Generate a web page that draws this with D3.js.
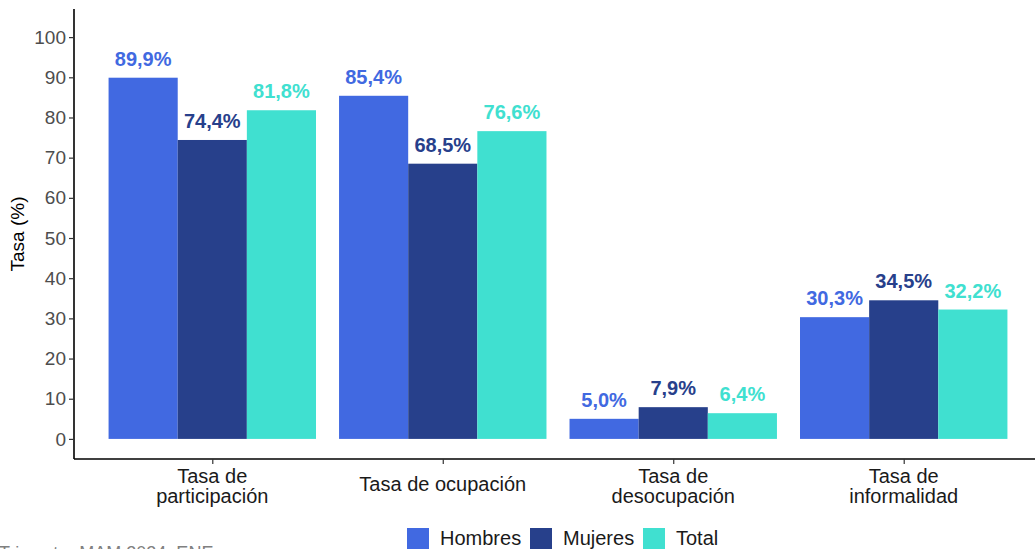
<!DOCTYPE html>
<html>
<head>
<meta charset="utf-8">
<script src="https://cdn.jsdelivr.net/npm/d3@7"></script>
<style>
  body { margin: 0; background: #fff; }
  svg { display: block; font-family: "Liberation Sans", Arial, sans-serif; }
</style>
</head>
<body>
<div id="my_dataviz"></div>
<script>
// data
var categories = ["Tasa de\nparticipación", "Tasa de ocupación", "Tasa de\ndesocupación", "Tasa de\ninformalidad"];
var series = ["Hombres", "Mujeres", "Total"];
var hombres = [89.9, 85.4, 5.0, 30.3];
var mujeres = [74.4, 68.5, 7.9, 34.5];
var total   = [81.8, 76.6, 6.4, 32.2];
var yTicks = [0, 10, 20, 30, 40, 50, 60, 70, 80, 90, 100];
var colors = ["#4169E1", "#27408B", "#40E0D0"];

var values = [hombres, mujeres, total];

// dimensions
var W = 1035, H = 549;
var margin = {top: 9, right: -7, bottom: 90, left: 74},
    width = W - margin.left - margin.right,
    height = H - margin.top - margin.bottom;

var svg = d3.select("#my_dataviz")
  .append("svg")
    .attr("width", W)
    .attr("height", H);

var g = svg.append("g")
    .attr("transform", "translate(" + margin.left + "," + margin.top + ")");

// x scale: ggplot style discrete expansion of 0.6 units
var x = d3.scalePoint()
  .domain(categories)
  .range([0.6 / 4.2 * width, width - 0.6 / 4.2 * width]);
var step = x.step();
var bandW = step * 0.9;
var xSub = d3.scaleBand()
  .domain(series)
  .range([-bandW / 2, bandW / 2]);

var y = d3.scaleLinear()
  .domain([-5, 107])
  .range([height, 0]);

// bars
series.forEach(function(s, i) {
  g.selectAll("rect.s" + i)
    .data(values[i])
    .enter()
    .append("rect")
      .attr("class", "s" + i)
      .attr("x", function(d, j) { return x(categories[j]) + xSub(s); })
      .attr("y", function(d) { return y(d); })
      .attr("width", xSub.bandwidth())
      .attr("height", function(d) { return y(0) - y(d); })
      .attr("fill", colors[i]);

  g.selectAll("text.v" + i)
    .data(values[i])
    .enter()
    .append("text")
      .attr("class", "v" + i)
      .attr("x", function(d, j) { return x(categories[j]) + xSub(s) + xSub.bandwidth() / 2; })
      .attr("y", function(d) { return y(d) - 12; })
      .attr("text-anchor", "middle")
      .style("font-size", "20px")
      .style("font-weight", "bold")
      .attr("fill", colors[i])
      .text(function(d) { return d.toFixed(1).replace(".", ",") + "%"; });
});

// Y axis
var yAxis = g.append("g")
  .call(d3.axisLeft(y).tickValues(yTicks).tickSize(5).tickPadding(3));
yAxis.select(".domain").attr("stroke", "#000").attr("stroke-width", 1.6)
  .attr("d", "M0," + height + "V0");
yAxis.selectAll(".tick line").attr("stroke", "#333").attr("stroke-width", 1.2);
yAxis.selectAll(".tick text")
  .style("font-size", "19px")
  .style("font-family", "Liberation Sans, Arial, sans-serif")
  .attr("fill", "#4D4D4D");

// X axis
var xAxis = g.append("g")
  .attr("transform", "translate(0," + height + ")")
  .call(d3.axisBottom(x).tickSize(5).tickFormat(""));
xAxis.select(".domain").attr("stroke", "#000").attr("stroke-width", 1.6)
  .attr("d", "M0,0H" + width);
xAxis.selectAll(".tick line").attr("stroke", "#333").attr("stroke-width", 1.2);

// x labels, possibly two lines
categories.forEach(function(c) {
  var lines = c.split("\n");
  var t = g.append("text")
    .attr("text-anchor", "middle")
    .style("font-size", "20px")
    .attr("fill", "#1a1a1a")
    .attr("x", x(c));
  var y0 = lines.length === 1 ? height + 32 : height + 24;
  lines.forEach(function(l, k) {
    t.append("tspan")
      .attr("x", x(c))
      .attr("y", y0 + k * 19.5)
      .text(l);
  });
});

// y axis title
svg.append("text")
  .attr("transform", "translate(24," + (margin.top + height / 2) + ") rotate(-90)")
  .attr("text-anchor", "middle")
  .style("font-size", "19px")
  .attr("fill", "#000")
  .text("Tasa (%)");

// legend
var legendX = [407, 530, 643];
series.forEach(function(s, i) {
  svg.append("rect")
    .attr("x", legendX[i])
    .attr("y", 528)
    .attr("width", 22)
    .attr("height", 22)
    .attr("fill", colors[i]);
  svg.append("text")
    .attr("x", legendX[i] + 33)
    .attr("y", 545)
    .style("font-size", "20px")
    .attr("fill", "#1a1a1a")
    .text(s);
});

// caption (cut at bottom)
svg.append("text")
  .attr("x", -1)
  .attr("y", 559)
  .style("font-size", "18px")
  .attr("fill", "#808080")
  .text("Trimestre MAM 2024, ENE");
</script>
</body>
</html>
